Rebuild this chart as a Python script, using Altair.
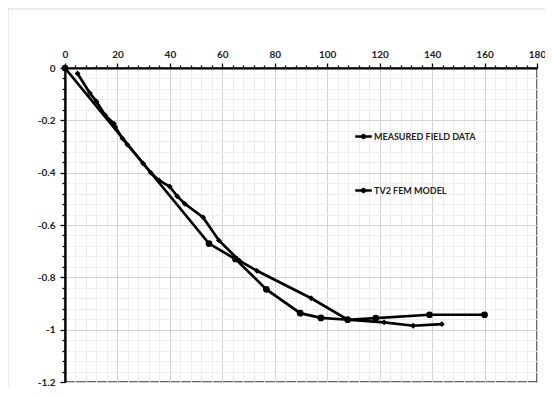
import altair as alt
import pandas as pd

# ---- data ----
meas_x = [4.8, 9.5, 12.0, 15.3, 18.7, 19.2, 21.9, 23.8, 29.8, 32.7, 35.9, 39.9, 42.8,
          45.7, 52.7, 58.7, 66.5, 73.2, 93.9, 107.8, 121.7, 132.8, 143.7]
meas_y = [-0.021, -0.096, -0.128, -0.18, -0.213, -0.225, -0.269, -0.293, -0.365, -0.40,
          -0.43, -0.453, -0.49, -0.519, -0.571, -0.659, -0.736, -0.775, -0.88, -0.962,
          -0.972, -0.985, -0.979]

fem_x = [0, 54.9, 65.0, 76.8, 89.7, 97.6, 107.8, 118.5, 139.0, 160.0]
fem_y = [0, -0.671, -0.73, -0.846, -0.937, -0.955, -0.962, -0.956, -0.943, -0.943]

series_names = ["MEASURED FIELD DATA", "TV2 FEM MODEL"]
x_ticks = [i * 4 for i in range(46)]
y_ticks = [round(-1.2 + 0.04 * i, 2) for i in range(31)]

rows = []
for i, (x, y) in enumerate(zip(meas_x, meas_y)):
    rows.append({"series": series_names[0], "x": x, "y": y, "i": i})
for i, (x, y) in enumerate(zip(fem_x, fem_y)):
    rows.append({"series": series_names[1], "x": x, "y": y, "i": i})
df = pd.DataFrame(rows)

W, H = 472, 314

x_major = "datum.value % 20 === 0"
y_major = "abs(datum.value*5 - round(datum.value*5)) < 0.001"

x_axis = alt.Axis(
    orient="top", values=x_ticks, title=None,
    labelExpr=f"{x_major} ? datum.label : ''",
    labelOverlap=False, labelBound=False, labelFlush=False,
    gridColor={"condition": {"test": x_major, "value": "#d2d2d2"}, "value": "#ededed"},
    tickSize={"condition": {"test": x_major, "value": 5}, "value": 3},
    tickColor="black", tickWidth=1.3,
    domainColor="black", domainWidth=2.2,
    labelPadding=4,
)
y_axis = alt.Axis(
    values=y_ticks, title=None,
    labelExpr=f"{y_major} ? (abs(datum.value) < 0.001 ? '0' : '-' + format(-datum.value, '~g')) : ''",
    labelOverlap=False, labelBound=False, labelFlush=False,
    gridColor={"condition": {"test": y_major, "value": "#d2d2d2"}, "value": "#ededed"},
    tickSize={"condition": {"test": y_major, "value": 5}, "value": 3},
    tickColor="black", tickWidth=1.3,
    domainColor="black", domainWidth=2.2,
    labelPadding=5,
)

xenc = alt.X("x:Q", scale=alt.Scale(domain=[0, 180], nice=False), axis=x_axis)
yenc = alt.Y("y:Q", scale=alt.Scale(domain=[-1.2, 0], nice=False), axis=y_axis)

base = alt.Chart(df)

legend_symbol = ("M-1,-0.14L1,-0.14L1,0.14L-1,0.14Z "
                 "M-0.3,0A0.3,0.3 0 1,1 0.3,0A0.3,0.3 0 1,1 -0.3,0Z")

lines = base.mark_line(strokeWidth=2.7).encode(
    x=xenc, y=yenc, order="i:Q",
    color=alt.Color("series:N",
                    scale=alt.Scale(domain=series_names, range=["black", "black"]),
                    legend=alt.Legend(
                        orient="none", legendX=290, legendY=60, direction="vertical",
                        title=None, symbolType=legend_symbol, symbolSize=256,
                        symbolFillColor="black", symbolStrokeColor="black",
                        symbolStrokeWidth=0.5,
                        labelFont="Lato", labelFontWeight="bold", labelFontSize=9,
                        labelColor="#222", labelOffset=2, rowPadding=40, padding=0,
                    )),
)

pts_meas = base.transform_filter(
    alt.datum.series == series_names[0]
).mark_point(filled=True, opacity=1, color="black", shape="diamond", size=34).encode(
    x=xenc, y=yenc
)
pts_fem = base.transform_filter(
    alt.datum.series == series_names[1]
).mark_point(filled=True, opacity=1, color="black", shape="circle", size=45).encode(
    x=xenc, y=yenc
)

frame = alt.Chart(pd.DataFrame({"k": [0]})).mark_rect(
    fill=None, stroke="#d9d9d9", strokeWidth=1
).encode(
    x=alt.value(-57), x2=alt.value(W + 30), y=alt.value(-59), y2=alt.value(H + 30)
)

chart = alt.layer(frame, lines, pts_meas, pts_fem).properties(
    width=W, height=H,
    autosize=alt.AutoSizeParams(type="none"),
    padding={"left": 57, "top": 60, "right": 8, "bottom": 6},
).configure_view(
    stroke="#3a3a3a", strokeWidth=1.5
).configure_axis(
    labelFont="Lato", labelFontWeight="bold", labelFontSize=10, labelColor="#222",
    gridWidth=1,
)

chart.save("out.html", embed_options={"renderer": "svg", "actions": False})
